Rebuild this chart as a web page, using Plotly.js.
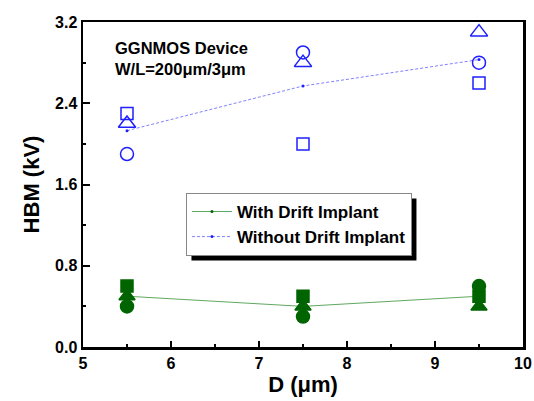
<!DOCTYPE html>
<html>
<head>
<meta charset="utf-8">
<script src="https://cdn.plot.ly/plotly-3.0.1.min.js"></script>
<style>html,body{margin:0;padding:0;background:#fff;}#chart{width:534px;height:401px;}</style>
</head>
<body>
<div id="chart"></div>
<script>
const D = [5.5, 7.5, 9.5];
// With Drift Implant (filled green)
const withSquare = [0.6, 0.5, 0.5];
const withTriangle = [0.5, 0.4, 0.4];
const withCircle = [0.4, 0.3, 0.6];
const withMean = [0.5, 0.4, 0.5];
// Without Drift Implant (open blue)
const withoutSquare = [2.3, 2.0, 2.6];
const withoutTriangle = [2.2, 2.8, 3.1];
const withoutCircle = [1.9, 2.9, 2.8];
const withoutMean = [2.13, 2.57, 2.83];
const xTicks = [5, 6, 7, 8, 9, 10];
const yTicks = [0.0, 0.8, 1.6, 2.4, 3.2];

const green = '#006400', greenLine = '#5fa85f';
const blue = '#1f1fff', blueLine = '#8080ff';

function pts(y, sym, color, size) {
  return {x: D, y: y, mode: 'markers', type: 'scatter', showlegend: false,
    marker: {symbol: sym, color: color, size: size, line: {color: color, width: 1.5}}, hoverinfo: 'skip'};
}

const traces = [
  {x: D, y: withMean, mode: 'lines+markers', name: '<b>With Drift Implant</b>', type: 'scatter',
   line: {color: greenLine, width: 1}, marker: {color: green, size: 3}},
  {x: D, y: withoutMean, mode: 'lines+markers', name: '<b>Without Drift Implant</b>', type: 'scatter',
   line: {color: blueLine, width: 1, dash: '3px,2px'}, marker: {color: blue, size: 3}},
  pts(withSquare, 'square', green, 12),
  pts(withTriangle, 'triangle-up', green, 14),
  pts(withCircle, 'circle', green, 13),
  pts(withoutSquare, 'square-open', blue, 12),
  pts(withoutTriangle, 'triangle-up-open', blue, 15),
  pts(withoutCircle, 'circle-open', blue, 13)
];

const font = 'Arial, "Liberation Sans", sans-serif';
const layout = {
  width: 534, height: 401,
  margin: {l: 83, r: 11, t: 22, b: 54},
  paper_bgcolor: '#fff', plot_bgcolor: 'rgba(0,0,0,0)',
  font: {family: font, color: '#000', size: 15},
  xaxis: {
    range: [5, 10], tickvals: xTicks, ticktext: xTicks.map(v => '<b>' + v + '</b>'),
    showline: true, linewidth: 2.5, linecolor: '#000', mirror: true,
    showgrid: false, zeroline: false,
    ticks: 'inside', ticklen: 6, tickwidth: 2, tickcolor: '#000',
    minor: {dtick: 0.5, tick0: 5, ticks: 'inside', ticklen: 3, tickwidth: 2, tickcolor: '#000', showgrid: false},
    tickfont: {size: 16, family: font},
    title: {text: '<b>D (μm)</b>', font: {size: 22, family: font}, standoff: 6}
  },
  yaxis: {
    range: [0, 3.2], tickvals: yTicks, ticktext: yTicks.map(v => '<b>' + v.toFixed(1) + '</b>'),
    showline: true, linewidth: 2.5, linecolor: '#000', mirror: true,
    showgrid: false, zeroline: false,
    ticks: 'inside', ticklen: 7, tickwidth: 2, tickcolor: '#000',
    minor: {dtick: 0.4, tick0: 0, ticks: 'inside', ticklen: 3, tickwidth: 2, tickcolor: '#000', showgrid: false},
    tickfont: {size: 16, family: font},
    title: {text: '<b>HBM (kV)</b>', font: {size: 22, family: font}, standoff: 10}
  },
  legend: {
    x: 0.234, y: 0.474, xanchor: 'left', yanchor: 'top',
    bgcolor: '#fff', bordercolor: '#888', borderwidth: 1,
    font: {size: 17, family: font}, tracegroupgap: 0, itemwidth: 40
  },
  annotations: [{
    text: '<b>GGNMOS Device<br>W/L=200μm/3μm</b>', xref: 'paper', yref: 'paper',
    x: 0.068, y: 0.955, xanchor: 'left', yanchor: 'top', align: 'left', showarrow: false,
    font: {size: 16.5, family: font, color: '#000'}
  }]
};

Plotly.newPlot('chart', traces, layout, {displayModeBar: false, staticPlot: true}).then(function (gd) {
  // drop shadow behind legend box, sized from the rendered legend
  const bg = gd.querySelector('.legend .bg') || gd.querySelector('.legend rect');
  if (!bg) return;
  const r = bg.getBoundingClientRect();
  const c = gd.getBoundingClientRect();
  const fs = gd._fullLayout._size;
  const off = 5;
  const px = v => (v - c.left - fs.l) / fs.w;
  const py = v => 1 - (v - c.top - fs.t) / fs.h;
  return Plotly.relayout(gd, {shapes: [{type: 'rect', xref: 'paper', yref: 'paper',
    x0: px(r.left + off), x1: px(r.right + off), y0: py(r.bottom + off), y1: py(r.top + off),
    fillcolor: '#000', line: {width: 0}, layer: 'below'}]});
});
</script>
</body>
</html>
